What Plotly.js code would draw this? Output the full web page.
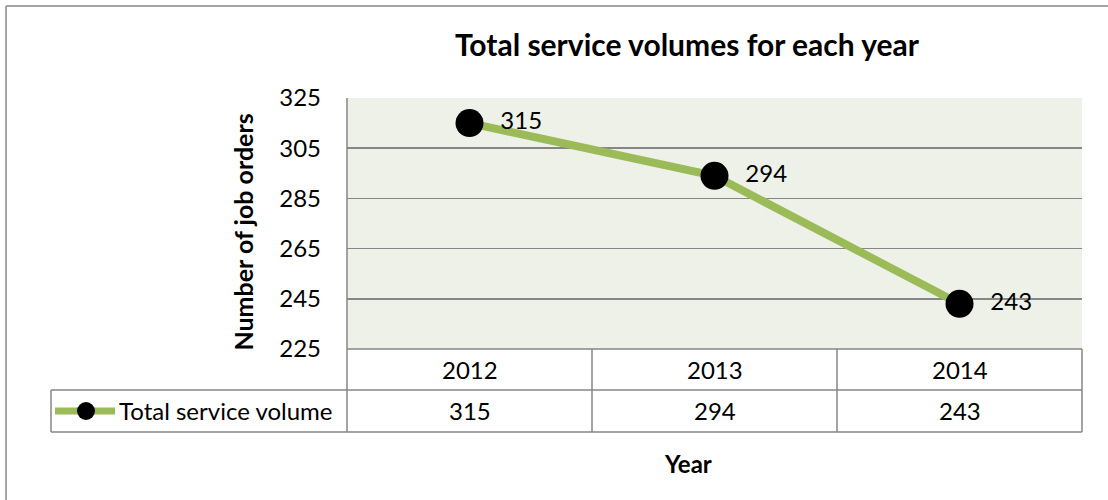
<!DOCTYPE html>
<html>
<head>
<meta charset="utf-8">
<script src="https://cdn.plot.ly/plotly-3.0.1.min.js"></script>
<style>html,body{margin:0;padding:0;background:#fff;}#chart{width:1108px;height:500px;}</style>
</head>
<body>
<div id="chart"></div>
<script>
const categories = ["2012", "2013", "2014"];
const seriesName = "Total service volume";
const values = [315, 294, 243];
const yTicks = [225, 245, 265, 285, 305, 325];

const FONT = "Lato, 'Open Sans', sans-serif";
const GRID = "#868686";
const idx = categories.map((c, i) => i);

const trace = {
  x: idx, y: values, type: "scatter", mode: "lines+markers+text",
  name: seriesName,
  line: {color: "#9BBB59", width: 8},
  marker: {color: "#000", size: 28},
  text: values.map(v => "\u00a0\u00a0" + v),
  textposition: "middle right",
  textfont: {family: FONT, size: 24, color: "#000"},
  cliponaxis: false, hoverinfo: "skip", showlegend: false
};

// table geometry in paper coords
const row1 = -0.1633, row2 = -0.3307, legLeft = -0.4027;
const midRow2 = (row1 + row2) / 2;
const shapes = [];
const L = (x0, y0, x1, y1, xref) => shapes.push({type: "line", xref: xref || "paper", yref: "paper", x0, y0, x1, y1, line: {color: GRID, width: 1.5}});
// outer chart border (left & top)
L(-0.4639, -1, -0.4639, 1.3665); L(-0.4639, 1.3665, 1.2, 1.3665);
// plot left border down through table
L(0, 1, 0, row2);
// table horizontal lines
L(0, 0, 1, 0); L(legLeft, row1, 1, row1); L(legLeft, row2, 1, row2);
// table right and legend-cell left
L(1, 0, 1, row2); L(legLeft, row1, legLeft, row2);
// column dividers at category boundaries
for (let i = 0; i < categories.length - 1; i++) L(i + 0.5, 0, i + 0.5, row2, "x");
// legend symbol
shapes.push({type: "line", xref: "paper", yref: "paper", x0: -0.3973, x1: -0.3156, y0: midRow2, y1: midRow2, line: {color: "#9BBB59", width: 7}});
shapes.push({type: "circle", xref: "paper", yref: "paper", x0: -0.3673, x1: -0.3429, y0: midRow2 - 0.0359, y1: midRow2 + 0.0359, fillcolor: "#000", line: {width: 0}});

const cellFont = {family: FONT, size: 24, color: "#000"};
const annotations = [];
categories.forEach((c, i) => {
  annotations.push({x: i, y: row1 / 2, xref: "x", yref: "paper", xanchor: "center", yanchor: "middle", text: c, showarrow: false, font: cellFont});
  annotations.push({x: i, y: midRow2, xref: "x", yref: "paper", xanchor: "center", yanchor: "middle", text: String(values[i]), showarrow: false, font: cellFont});
});
annotations.push({x: -0.3129, y: midRow2, xref: "paper", yref: "paper", xanchor: "left", yanchor: "middle", text: seriesName, showarrow: false, font: cellFont});
annotations.push({x: 0.464, y: -0.458, xref: "paper", yref: "paper", xanchor: "center", yanchor: "middle", text: "<b>Year</b>", showarrow: false, font: cellFont});
annotations.push({x: -0.1415, y: 0.468, xref: "paper", yref: "paper", xanchor: "center", yanchor: "middle", textangle: -90, text: "<b>Number of job orders</b>", showarrow: false, font: {family: FONT, size: 25, color: "#000"}});

const layout = {
  width: 1108, height: 500,
  margin: {l: 347, r: 26, t: 98, b: 151},
  paper_bgcolor: "#fff", plot_bgcolor: "#EEF1E8",
  title: {text: "<b>Total service volumes for each year</b>", x: 0.4626, xref: "paper", xanchor: "center", y: 0.91, yanchor: "middle", font: {family: FONT, size: 30, color: "#000"}},
  xaxis: {range: [-0.5, 2.5], showgrid: false, zeroline: false, showticklabels: false, showline: false, ticks: "", fixedrange: true},
  yaxis: {range: [225, 325], tickvals: yTicks, ticktext: yTicks.map(String), showgrid: true, gridcolor: GRID, gridwidth: 1.5, zeroline: false, showline: false,
    ticks: "", ticklabelstandoff: 25, tickfont: {family: FONT, size: 24, color: "#000"}, automargin: false},
  shapes, annotations, showlegend: false
};

Plotly.newPlot("chart", [trace], layout, {staticPlot: true, displayModeBar: false});
</script>
</body>
</html>
